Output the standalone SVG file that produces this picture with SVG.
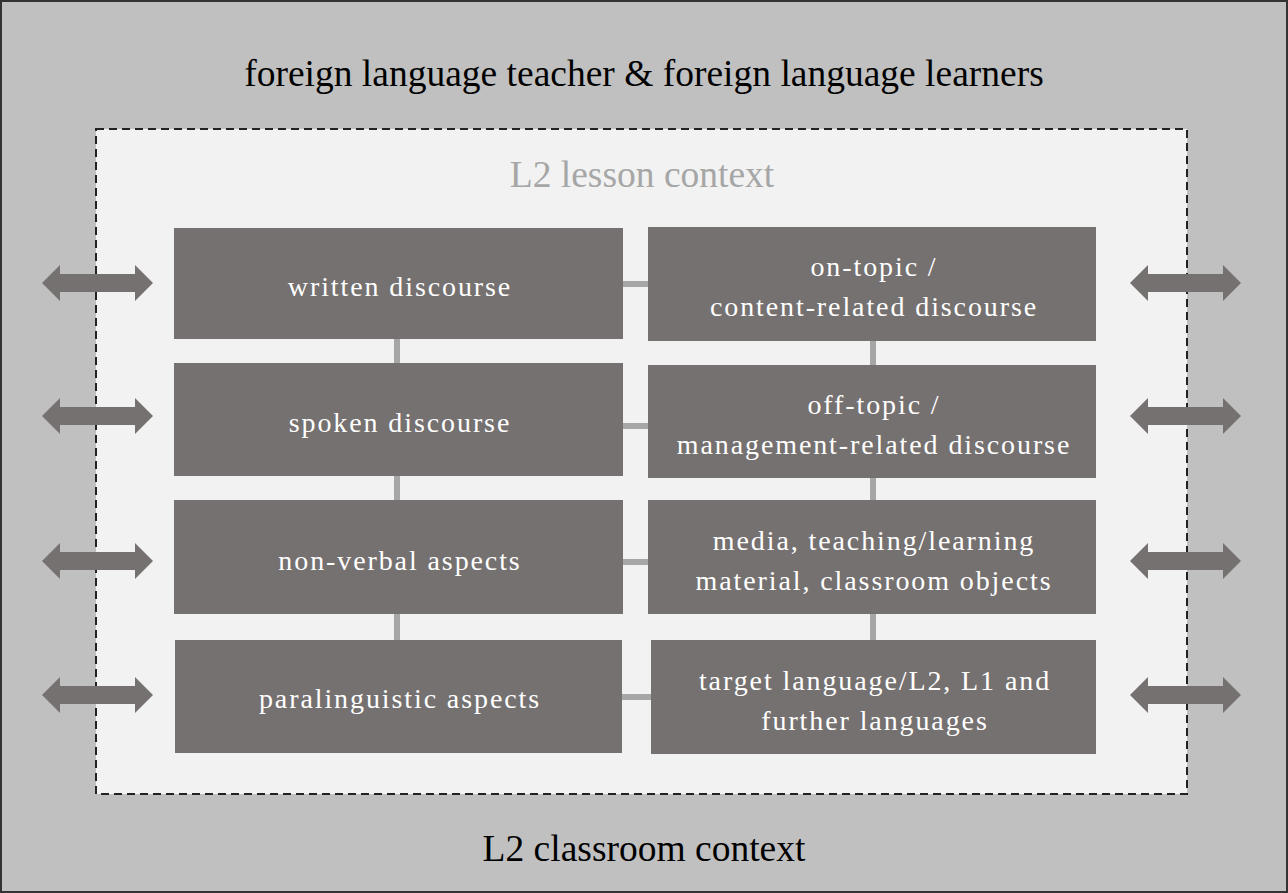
<svg xmlns="http://www.w3.org/2000/svg" width="1288" height="893" viewBox="0 0 1288 893">
<defs>
<style>
.t{font-family:"Liberation Serif","Times New Roman",serif;text-anchor:middle}
.big{font-size:37.5px;fill:#000}
.sub{font-size:37.5px;fill:#a6a6a6}
.bt{font-size:28px;fill:#fff;letter-spacing:1.9px}
.box{fill:#757170}
.con{stroke:#a6a6a6;stroke-width:6;fill:none}
.arr{fill:#757170}
</style>
<polygon id="dbl" points="0,0 18,-18 18,-9 93,-9 93,-18 111,0 93,18 93,9 18,9 18,18"/>
</defs>
<rect x="1" y="1" width="1286" height="891" fill="#c0c0c0" stroke="#333" stroke-width="2"/>
<g id="lesson">
<rect x="96" y="129" width="1091" height="665" fill="#f2f2f2" stroke="#222" stroke-width="2" stroke-dasharray="8,5"/>
</g>
<text class="t big" x="644" y="86">foreign language teacher &amp; foreign language learners</text>
<text class="t sub" x="642" y="187">L2 lesson context</text>
<text class="t big" x="644" y="861">L2 classroom context</text>
<g id="connectors">
<line class="con" x1="397" y1="339" x2="397" y2="363"/>
<line class="con" x1="397" y1="476" x2="397" y2="500"/>
<line class="con" x1="397" y1="614" x2="397" y2="640"/>
<line class="con" x1="873" y1="341" x2="873" y2="365"/>
<line class="con" x1="873" y1="478" x2="873" y2="500"/>
<line class="con" x1="873" y1="614" x2="873" y2="640"/>
<line class="con" x1="623" y1="284" x2="648" y2="284"/>
<line class="con" x1="623" y1="426" x2="648" y2="426"/>
<line class="con" x1="623" y1="562" x2="648" y2="562"/>
<line class="con" x1="622" y1="697" x2="651" y2="697"/>
<g class="arr">
<use href="#dbl" x="42" y="283"/>
<use href="#dbl" x="42" y="416"/>
<use href="#dbl" x="42" y="561"/>
<use href="#dbl" x="42" y="695"/>
<use href="#dbl" x="1130" y="283"/>
<use href="#dbl" x="1130" y="416"/>
<use href="#dbl" x="1130" y="561"/>
<use href="#dbl" x="1130" y="695"/>
</g>
</g>
<g id="written"><rect class="box" x="174" y="228" width="449" height="111"/><text class="t bt" x="400" y="296">written discourse</text></g>
<g id="spoken"><rect class="box" x="174" y="363" width="449" height="113"/><text class="t bt" x="400" y="432">spoken discourse</text></g>
<g id="nonverbal"><rect class="box" x="174" y="500" width="449" height="114"/><text class="t bt" x="400" y="570">non-verbal aspects</text></g>
<g id="paraling"><rect class="box" x="175" y="640" width="447" height="113"/><text class="t bt" x="400" y="708">paralinguistic aspects</text></g>
<g id="ontopic"><rect class="box" x="648" y="227" width="448" height="114"/><text class="t bt" x="874" y="276">on-topic /</text><text class="t bt" x="874" y="316">content-related discourse</text></g>
<g id="offtopic"><rect class="box" x="648" y="365" width="448" height="113"/><text class="t bt" x="874" y="414">off-topic /</text><text class="t bt" x="874" y="454">management-related discourse</text></g>
<g id="media"><rect class="box" x="648" y="500" width="448" height="114"/><text class="t bt" x="874" y="550">media, teaching/learning</text><text class="t bt" x="874" y="590">material, classroom objects</text></g>
<g id="target"><rect class="box" x="651" y="640" width="445" height="114"/><text class="t bt" x="875" y="690">target language/L2, L1 and</text><text class="t bt" x="875" y="730">further languages</text></g>
</svg>
